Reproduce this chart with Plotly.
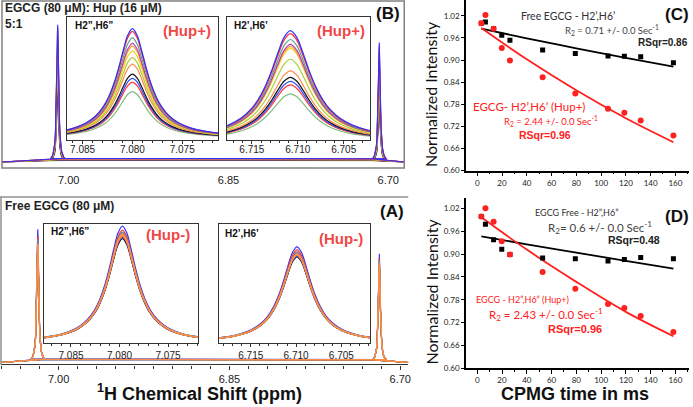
import plotly.graph_objects as go

W, H = 693, 407

# ---------------- data ----------------
SPEC_COLORS = ["#3030ff", "#ff2a2a", "#5f9f86", "#b43cc0", "#ff9f2a", "#f2d21c",
               "#a9cf34", "#ff8a4a", "#111111", "#2f4fff", "#ff3434", "#7fbf7f"]

# line-shape profile (offset in half-widths, relative height)
PROFILE_U = [-6, -5, -4, -3.5, -3, -2.5, -2, -1.6, -1.3, -1, -0.75, -0.5, -0.25, 0,
             0.25, 0.5, 0.75, 1, 1.3, 1.6, 2, 2.5, 3, 3.5, 4, 5, 6]
PROFILE_V = [0.027, 0.038, 0.059, 0.075, 0.10, 0.138, 0.20, 0.281, 0.372, 0.50, 0.64, 0.80, 0.941, 1.0,
             0.941, 0.80, 0.64, 0.50, 0.372, 0.281, 0.20, 0.138, 0.10, 0.075, 0.059, 0.038, 0.027]

# main spectra (ppm positions and peak heights)
TOP_MAIN_PEAK_PPM = [7.0103, 6.7084]
TOP_MAIN_HALFWIDTH = 0.0011
TOP_MAIN_BASE = 6
TOP_MAIN_LEFT = [139, 136, 128, 121, 117, 111, 103, 95, 83, 77, 72, 61]
TOP_MAIN_RIGHT = [121, 118, 111, 106, 103, 101, 89, 76, 69, 65, 61, 51]

BOT_MAIN_PEAK_PPM = [7.0183, 6.7183]
BOT_MAIN_HALFWIDTH = 0.0010
BOT_MAIN_BASE = 2
BOT_MAIN_LEFT = [135, 128, 125, 122, 120, 118, 119, 120, 117, 118, 119, 121]
BOT_MAIN_RIGHT = [110, 106, 103, 101, 100, 98, 99, 100, 97, 98, 99, 101]

# insets
TOP_L = dict(center=7.0800, hw=0.00185, base=2.5,
             peaks=[113, 110.3, 103.7, 98, 95.3, 90.3, 83.7, 77, 67, 62.7, 58.7, 49.3])
TOP_R = dict(center=6.7108, hw=0.0027, base=0,
             peaks=[111, 108, 102, 97, 95, 93, 82, 70.3, 63.7, 59.7, 56, 47])
BOT_L = dict(center=7.0797, hw=0.0018, base=0,
             peaks=[118, 114, 112, 111, 110, 107, 109, 108.5, 105.5, 107, 108, 110])
BOT_R = dict(center=6.7099, hw=0.0020, base=0,
             peaks=[97, 94, 92, 91, 90, 88, 89, 89, 87, 88, 89, 90])

MAIN_TICKS = [7.00, 6.85, 6.70]
MAIN_TICKTEXT = ["7.00", "6.85", "6.70"]
INSET_L_TICKS = [7.085, 7.080, 7.075]
INSET_R_TICKS = [6.715, 6.710, 6.705]

# CPMG relaxation data
CPMG_T = [3.3, 6.6, 13.2, 19.8, 26.4, 52.8, 79.2, 105.6, 118.8, 132.0, 158.4]
C_FREE = [1.000, 1.003, 0.985, 0.967, 0.954, 0.927, 0.918, 0.911, 0.910, 0.909, 0.893]
C_HUP = [1.000, 1.022, 0.985, 0.933, 0.899, 0.853, 0.809, 0.768, 0.757, 0.736, 0.695]
D_FREE = [0.999, 0.979, 0.938, 0.913, 0.899, 0.890, 0.888, 0.882, 0.886, 0.891, 0.888]
D_HUP = [0.999, 1.021, 0.985, 0.934, 0.899, 0.853, 0.809, 0.769, 0.758, 0.737, 0.695]
FIT_T = [3.3, 40, 80, 120, 158.4]
C_FREE_FIT = [0.985, 0.959, 0.932, 0.906, 0.882]
C_HUP_FIT = [0.987, 0.902, 0.818, 0.742, 0.677]
D_FREE_FIT = [0.947, 0.926, 0.904, 0.882, 0.862]
D_HUP_FIT = [0.997, 0.912, 0.827, 0.748, 0.684]
Y_TICKS = [0.60, 0.66, 0.72, 0.78, 0.84, 0.90, 0.96, 1.02]
X_TICKS = [0, 20, 40, 60, 80, 100, 120, 140, 160]

RED = "#ff2020"
LABEL_RED = "#f04848"
BOLD = "Liberation Sans, Arial"
MYR = "Lato, Liberation Sans"


def px(x):
    return x / W


def py(y):
    return 1 - y / H


def dx(a, b):
    return [a / W, b / W]


def dy(top, bottom):
    return [1 - bottom / H, 1 - top / H]


fig = go.Figure()


def peak_xy(center, hw, base, height):
    xs = [center + u * hw for u in PROFILE_U]
    ys = [base + height * v for v in PROFILE_V]
    return xs, ys


def main_trace(xa, ya, rng, centers, hw, base, lefts, rights, order):
    for i in order:
        xl, yl = peak_xy(centers[0], hw, base, lefts[i])
        xr, yr = peak_xy(centers[1], hw, base, rights[i])
        xs = [rng[0]] + xl + xr + [rng[1]]
        ys = [base] + yl + yr + [base]
        fig.add_trace(go.Scatter(x=xs, y=ys, mode="lines", xaxis=xa, yaxis=ya,
                                 line=dict(color=SPEC_COLORS[i], width=1.1),
                                 showlegend=False, hoverinfo="skip"))


def inset_traces(xa, ya, d, order):
    for i in order:
        xs, ys = peak_xy(d["center"], d["hw"], d["base"], d["peaks"][i] - d["base"])
        fig.add_trace(go.Scatter(x=xs, y=ys, mode="lines", xaxis=xa, yaxis=ya,
                                 line=dict(color=SPEC_COLORS[i], width=1.2, shape="spline"),
                                 showlegend=False, hoverinfo="skip"))


TOP_RANGE = [7.0626, 6.685]
BOT_RANGE = [7.0506, 6.693]
order_top = list(range(11, -1, -1))
order_bot = [0, 1, 2, 3, 5, 6, 8, 9, 10, 11, 4, 7]

main_trace("x", "y", TOP_RANGE, TOP_MAIN_PEAK_PPM, TOP_MAIN_HALFWIDTH, TOP_MAIN_BASE,
           TOP_MAIN_LEFT, TOP_MAIN_RIGHT, order_top)
inset_traces("x2", "y2", TOP_L, order_top)
inset_traces("x3", "y3", TOP_R, order_top)
main_trace("x4", "y4", BOT_RANGE, BOT_MAIN_PEAK_PPM, BOT_MAIN_HALFWIDTH, BOT_MAIN_BASE,
           BOT_MAIN_LEFT, BOT_MAIN_RIGHT, order_bot)
inset_traces("x5", "y5", BOT_L, order_bot)
inset_traces("x6", "y6", BOT_R, order_bot)

# CPMG panels
for xa, ya, free, hup, ffit, hfit in [("x7", "y7", C_FREE, C_HUP, C_FREE_FIT, C_HUP_FIT),
                                       ("x8", "y8", D_FREE, D_HUP, D_FREE_FIT, D_HUP_FIT)]:
    fig.add_trace(go.Scatter(x=FIT_T, y=ffit, mode="lines", xaxis=xa, yaxis=ya,
                             line=dict(color="black", width=1.8, shape="spline"),
                             showlegend=False, hoverinfo="skip"))
    fig.add_trace(go.Scatter(x=FIT_T, y=hfit, mode="lines", xaxis=xa, yaxis=ya,
                             line=dict(color=RED, width=1.8, shape="spline"),
                             showlegend=False, hoverinfo="skip"))
    fig.add_trace(go.Scatter(x=CPMG_T, y=free, mode="markers", xaxis=xa, yaxis=ya,
                             marker=dict(symbol="square", size=5, color="black"),
                             showlegend=False, hoverinfo="skip"))
    fig.add_trace(go.Scatter(x=CPMG_T, y=hup, mode="markers", xaxis=xa, yaxis=ya,
                             marker=dict(symbol="circle", size=6, color=RED),
                             showlegend=False, hoverinfo="skip"))

layout = dict(width=W, height=H, margin=dict(l=0, r=0, t=0, b=0),
              paper_bgcolor="white", plot_bgcolor="white", showlegend=False)

noline = dict(showgrid=False, zeroline=False, showline=False, showticklabels=False, ticks="")

# main spectrum axes
layout["xaxis"] = dict(domain=dx(2, 406), range=TOP_RANGE, anchor="y", showgrid=False,
                       zeroline=False, showline=False, ticks="", tickvals=MAIN_TICKS,
                       ticktext=MAIN_TICKTEXT, ticklabelstandoff=4,
                       tickfont=dict(family=BOLD, size=11, color="#222"))
layout["yaxis"] = dict(domain=dy(1, 170), range=[0, 169], anchor="x", **noline)
layout["xaxis4"] = dict(domain=dx(1, 410), range=BOT_RANGE, anchor="y4", showgrid=False,
                        zeroline=False, showline=True, linecolor="#333", linewidth=1.3,
                        ticks="outside", ticklen=4, tickcolor="#333", tickwidth=1,
                        tickvals=MAIN_TICKS, ticktext=MAIN_TICKTEXT,
                        minor=dict(ticks="outside", ticklen=3, tickcolor="#333",
                                   tick0=7.0, dtick=0.15 / 9),
                        tickfont=dict(family=BOLD, size=11, color="#222"))
layout["yaxis4"] = dict(domain=dy(200, 369), range=[0, 169], anchor="x4", **noline)


def inset_axes(n, xdom, ydom, rng, ticks, yr, standoff):
    layout[f"xaxis{n}"] = dict(domain=xdom, range=rng, anchor=f"y{n}", showgrid=False,
                               zeroline=False, showline=True, mirror=True, linecolor="#333",
                               linewidth=1.3, ticks="outside", ticklen=3, tickcolor="#333",
                               tickvals=ticks, ticktext=[f"{t:.3f}" for t in ticks],
                               ticklabelstandoff=standoff,
                               minor=dict(ticks="outside", ticklen=2, tickcolor="#333",
                                          dtick=0.001, tick0=7.0),
                               tickfont=dict(family=BOLD, size=10, color="#222"))
    layout[f"yaxis{n}"] = dict(domain=ydom, range=yr, anchor=f"x{n}", showgrid=False,
                               zeroline=False, showline=True, mirror=True, linecolor="#333",
                               linewidth=1.3, showticklabels=False, ticks="")


inset_axes(2, dx(67, 219), dy(17, 142), [7.0866, 7.0714], INSET_L_TICKS, [0, 125], -3)
inset_axes(3, dx(228, 372), dy(17, 142), [6.7177, 6.7021], INSET_R_TICKS, [0, 125], -3)
inset_axes(5, dx(44, 199), dy(227, 347), [7.0878, 7.0719], INSET_L_TICKS, [0, 120], 0)
inset_axes(6, dx(220, 372), dy(227, 347), [6.7185, 6.7018], INSET_R_TICKS, [0, 120], 0)


def cpmg_axes(n, ydom, yr):
    layout[f"xaxis{n}"] = dict(domain=dx(468, 692), range=[-9.1, 171], anchor=f"y{n}",
                               showgrid=False, zeroline=False, showline=True, linecolor="black",
                               linewidth=1.5, ticks="outside", ticklen=4, tickcolor="black",
                               tickvals=X_TICKS, minor=dict(ticks="outside", ticklen=2,
                                                            dtick=10, tick0=0, tickcolor="black"),
                               tickfont=dict(family=MYR, size=8, color="#222"))
    layout[f"yaxis{n}"] = dict(domain=ydom, range=yr, anchor=f"x{n}", showgrid=False,
                               zeroline=False, showline=True, linecolor="black", linewidth=1.5,
                               ticks="outside", ticklen=3, tickcolor="black", tickvals=Y_TICKS,
                               ticktext=[f"{v:.2f}" for v in Y_TICKS],
                               tickfont=dict(family=MYR, size=8, color="#222"))


cpmg_axes(7, dy(0, 172.7), [0.60, 1.063])
cpmg_axes(8, dy(200, 372.7), [0.60, 1.049])

fig.update_layout(**layout)

# frames
fig.add_shape(type="rect", xref="paper", yref="paper", x0=px(2), x1=px(406), y0=py(170), y1=py(1),
              line=dict(color="#808080", width=1.5))
fig.add_shape(type="line", xref="paper", yref="paper", x0=px(0), x1=px(410), y0=py(199.5), y1=py(199.5),
              line=dict(color="#909090", width=1.5))
fig.add_shape(type="line", xref="paper", yref="paper", x0=px(1), x1=px(1), y0=py(199.5), y1=py(369),
              line=dict(color="#909090", width=1.5))


def ann(text, x, y, size, color="black", family=BOLD, xanchor="center", yanchor="middle", angle=0):
    fig.add_annotation(text=text, x=px(x), y=py(y), xref="paper", yref="paper", showarrow=False,
                       xanchor=xanchor, yanchor=yanchor, textangle=angle,
                       font=dict(family=family, size=size, color=color))


# spectra texts
ann("<b>EGCG (80 \u03bcM): Hup (16 \u03bcM)</b>", 3, 8, 12, "#222", xanchor="left")
ann("<b>5:1</b>", 3, 24, 12, "#222", xanchor="left")
ann("<b>Free EGCG (80 \u03bcM)</b>", 3, 209, 12, "#222", xanchor="left")
ann("<b>H2\u201d,H6\u201d</b>", 73, 26, 10, "#111", xanchor="left")
ann("<b>H2\u2019,H6\u2019</b>", 233, 26, 10, "#111", xanchor="left")
ann("<b>H2\u201d,H6\u201d</b>", 49, 234, 10, "#111", xanchor="left")
ann("<b>H2\u2019,H6\u2019</b>", 224, 236, 10, "#111", xanchor="left")
ann("<b>(Hup+)</b>", 188, 31, 15, LABEL_RED)
ann("<b>(Hup+)</b>", 342, 31, 15, LABEL_RED)
ann("<b>(Hup-)</b>", 169, 237, 15, LABEL_RED)
ann("<b>(Hup-)</b>", 342, 241, 15, LABEL_RED)
ann("<b>(B)</b>", 390, 14, 17, "#111")
ann("<b>(A)</b>", 394, 214, 17, "#111")
ann("<b><sup>1</sup>H Chemical Shift (ppm)</b>", 200, 397, 18, "#111")

# CPMG texts
ann("<b>(C)</b>", 680, 15, 17, "#111")
ann("<b>(D)</b>", 680, 219, 17, "#111")
ann("Normalized Intensity", 433, 95, 16, "#111", family=MYR, angle=-90)
ann("Normalized Intensity", 433, 295, 16, "#111", family=MYR, angle=-90)
ann("<b>CPMG time in ms</b>", 578, 399, 18, "#111")

ann("Free EGCG - H2\u2019,H6\u2019", 570, 16, 10.5, "#333", family=MYR)
ann("R<sub>2</sub> = 0.71 +/- 0.0 Sec<sup>-1</sup>", 615, 30, 9.5, "#444", family=MYR)
ann("<b>RSqr=0.86</b>", 666, 43, 10, "#222")
ann("EGCG- H2\u2019,H6\u2019 (Hup+)", 531, 108, 11.5, RED, family=MYR)
ann("R<sub>2</sub> = 2.44 +/- 0.0 Sec<sup>-1</sup>", 553, 123, 9.5, RED, family=MYR)
ann("<b>RSqr=0.96</b>", 547, 137, 10.5, RED)

ann("EGCG Free - H2\u201d,H6\u201d", 580, 215, 9, "#333", family=MYR)
ann("R<sub>2</sub>= 0.6 +/- 0.0 Sec<sup>-1</sup>", 603, 230, 11.5, "#444", family=MYR)
ann("<b>RSqr=0.48</b>", 637, 243, 10.5, "#222")
ann("EGCG - H2\u201d,H6\u201d (Hup+)", 525, 303, 9, RED, family=MYR)
ann("R<sub>2</sub> = 2.43 +/- 0.0 Sec<sup>-1</sup>", 548, 318, 11.5, RED, family=MYR)
ann("<b>RSqr=0.96</b>", 578, 333, 11, RED)

fig.write_html("out.html", config={"displayModeBar": False},
               post_script="document.body.style.margin='0px';")
